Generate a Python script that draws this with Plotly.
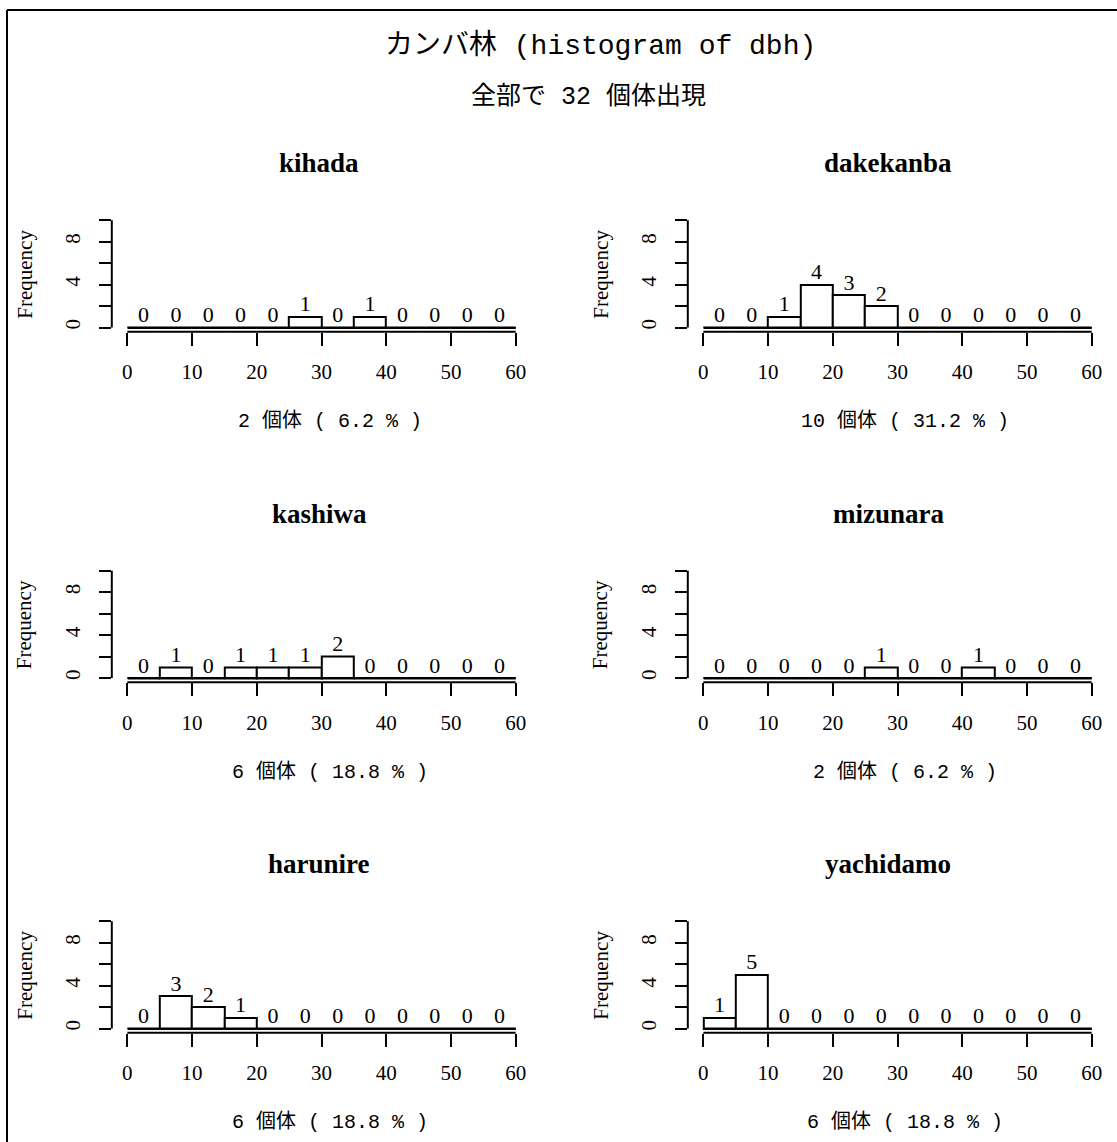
import plotly.graph_objects as go

# ---------------- data ----------------
bin_edges = [0, 5, 10, 15, 20, 25, 30, 35, 40, 45, 50, 55, 60]
species = ["kihada", "dakekanba", "kashiwa", "mizunara", "harunire", "yachidamo"]
kihada = [0, 0, 0, 0, 0, 1, 0, 1, 0, 0, 0, 0]
dakekanba = [0, 0, 1, 4, 3, 2, 0, 0, 0, 0, 0, 0]
kashiwa = [0, 1, 0, 1, 1, 1, 2, 0, 0, 0, 0, 0]
mizunara = [0, 0, 0, 0, 0, 1, 0, 0, 1, 0, 0, 0]
harunire = [0, 3, 2, 1, 0, 0, 0, 0, 0, 0, 0, 0]
yachidamo = [1, 5, 0, 0, 0, 0, 0, 0, 0, 0, 0, 0]
counts = [kihada, dakekanba, kashiwa, mizunara, harunire, yachidamo]
x_ticks = [0, 10, 20, 30, 40, 50, 60]
y_ticks = [0, 2, 4, 6, 8, 10]
y_ticktext = ["0", "", "4", "", "8", ""]
main_title = "カンバ林 (histogram of dbh)"
total = sum(sum(c) for c in counts)
sub_title = f"全部で {total} 個体出現"

# ---------------- layout helpers ----------------
W, H = 1117, 1142
SERIF = "Liberation Serif, Noto Sans CJK JP, serif"
MONO = "Liberation Mono, Noto Sans CJK JP, monospace"

def px_x(p):
    return p / W

def px_y(p):
    return 1 - p / H

col_left = [111.8, 687.8]
col_width = 419.4
row_top = [216.0, 566.5, 917.0]
row_height = 115.8
title_cx = [319, 888]
xlab_cx = [330, 905]

centers = [(bin_edges[i] + bin_edges[i + 1]) / 2 for i in range(len(bin_edges) - 1)]
widths = [bin_edges[i + 1] - bin_edges[i] for i in range(len(bin_edges) - 1)]
xpad = (bin_edges[-1] - bin_edges[0]) * 0.04
ypad = y_ticks[-1] * 0.04

fig = go.Figure()
shapes = []
annotations = []

for i, (name, cnt) in enumerate(zip(species, counts)):
    r, c = divmod(i, 2)
    k = "" if i == 0 else str(i + 1)
    xa, ya = "x" + k, "y" + k
    x0p = col_left[c]
    x1p = x0p + col_width
    y0p = row_top[r]
    y1p = y0p + row_height

    # baseline (zero-height bins drawn as flat line like R)
    fig.add_trace(go.Scatter(x=[bin_edges[0], bin_edges[-1]], y=[0, 0], mode="lines",
                             line=dict(color="black", width=2), xaxis=xa, yaxis=ya,
                             hoverinfo="skip", showlegend=False))
    fig.add_trace(go.Bar(x=centers, y=cnt, width=widths, marker=dict(color="white",
                         line=dict(color="black", width=2)), xaxis=xa, yaxis=ya,
                         showlegend=False))
    fig.add_trace(go.Scatter(x=centers, y=cnt, mode="text", text=[str(v) for v in cnt],
                             textposition="top center", cliponaxis=False,
                             textfont=dict(family=SERIF, size=22, color="black"),
                             xaxis=xa, yaxis=ya, hoverinfo="skip", showlegend=False))

    axis_common = dict(showgrid=False, zeroline=False, showline=False, ticks="outside",
                       tickwidth=2, tickcolor="black",
                       tickfont=dict(family=SERIF, size=21, color="black"))
    fig.update_layout(**{
        ("xaxis" + k): dict(domain=[px_x(x0p), px_x(x1p)], anchor=ya,
                            range=[bin_edges[0] - xpad, bin_edges[-1] + xpad],
                            tickvals=x_ticks, ticklen=13, ticklabelstandoff=8,
                            **axis_common),
        ("yaxis" + k): dict(domain=[px_y(y1p), px_y(y0p)], anchor=xa,
                            range=[-ypad, y_ticks[-1] + ypad],
                            tickvals=y_ticks, ticktext=y_ticktext, tickangle=-90,
                            ticklen=12, ticklabelstandoff=10, **axis_common),
    })

    # axis lines spanning only the tick range (R style)
    shapes.append(dict(type="line", xref=xa, yref=ya + " domain", x0=x_ticks[0], x1=x_ticks[-1],
                       y0=0, y1=0, line=dict(color="black", width=2)))
    shapes.append(dict(type="line", xref=xa + " domain", yref=ya, x0=0, x1=0,
                       y0=y_ticks[0], y1=y_ticks[-1], line=dict(color="black", width=2)))

    n = sum(cnt)
    pct = round(n / total * 100, 1)
    annotations.append(dict(text=f"<b>{name}</b>", x=px_x(title_cx[c]), y=px_y(y0p - 53),
                            xref="paper", yref="paper",
                            showarrow=False, xanchor="center", yanchor="middle",
                            font=dict(family=SERIF, size=27, color="black")))
    annotations.append(dict(text=f"{n} 個体 ( {pct} % )", x=px_x(xlab_cx[c]), y=px_y(y0p + 205),
                            xref="paper", yref="paper", showarrow=False,
                            xanchor="center", yanchor="middle",
                            font=dict(family=MONO, size=20, color="black")))
    annotations.append(dict(text="Frequency", x=px_x(x0p - 87), y=px_y((y0p + y1p) / 2),
                            xref="paper", yref="paper", showarrow=False, textangle=-90,
                            xanchor="center", yanchor="middle",
                            font=dict(family=SERIF, size=21, color="black")))

annotations.append(dict(text=main_title, x=px_x(600), y=px_y(45), xref="paper", yref="paper",
                        showarrow=False, xanchor="center", yanchor="middle",
                        font=dict(family=MONO, size=28, color="black")))
annotations.append(dict(text=sub_title, x=px_x(588), y=px_y(97), xref="paper", yref="paper",
                        showarrow=False, xanchor="center", yanchor="middle",
                        font=dict(family=MONO, size=25, color="black")))

# outer frame (top and left edges visible in the cropped reference)
shapes.append(dict(type="line", xref="paper", yref="paper", x0=px_x(7), x1=1,
                   y0=px_y(10), y1=px_y(10), line=dict(color="black", width=2)))
shapes.append(dict(type="line", xref="paper", yref="paper", x0=px_x(7), x1=px_x(7),
                   y0=0, y1=px_y(10), line=dict(color="black", width=2)))

fig.update_layout(width=W, height=H, margin=dict(l=0, r=0, t=0, b=0),
                  paper_bgcolor="white", plot_bgcolor="white", showlegend=False,
                  shapes=shapes, annotations=annotations, bargap=0)

fig.write_html("out.html")
